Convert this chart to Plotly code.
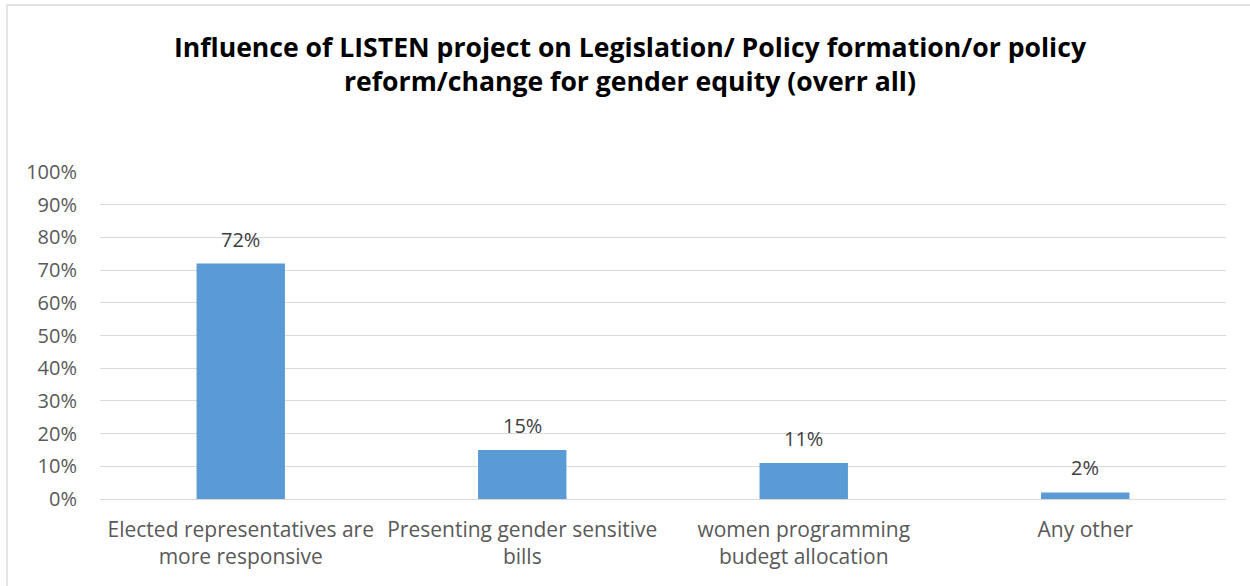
import plotly.graph_objects as go

categories = [
    "Elected representatives are<br>more responsive",
    "Presenting gender sensitive<br>bills",
    "women programming<br>budegt allocation",
    "Any other",
]
values = [0.72, 0.15, 0.11, 0.02]
value_labels = ["72%", "15%", "11%", "2%"]
tick_vals = [i / 10 for i in range(11)]
tick_text = [f"{i * 10}%" for i in range(11)]

FONT = "Open Sans"
BAR = "#5B9BD5"
GRID = "#D9D9D9"

fig = go.Figure()
fig.add_trace(go.Bar(
    x=categories, y=values, marker=dict(color=BAR, line=dict(width=0)),
    width=0.314, hoverinfo="skip",
))

for c, v, t in zip(categories, values, value_labels):
    fig.add_annotation(x=c, y=v, text=t, showarrow=False, yanchor="bottom",
                       yshift=9, font=dict(family=FONT, size=20, color="#404040"))

fig.add_shape(type="rect", xref="paper", yref="paper",
              x0=(7 - 100) / 1126, x1=1.1, y0=-0.5, y1=(499 - 5) / 327,
              line=dict(color=GRID, width=1.3), fillcolor="rgba(0,0,0,0)", layer="below")

fig.update_layout(
    width=1250, height=586,
    margin=dict(l=100, r=24, t=172, b=87),
    paper_bgcolor="white", plot_bgcolor="white",
    title=dict(
        text="<b>Influence of LISTEN project on Legislation/ Policy formation/or policy<br>reform/change for gender equity (overr all)</b>",
        x=0.504, xanchor="center", y=1 - 56.5 / 586, yanchor="middle", yref="container",
        font=dict(family=FONT, size=26.6, color="#000000"),
    ),
    showlegend=False,
    bargap=0.686,
    xaxis=dict(showgrid=False, showline=False, ticks="", tickfont=dict(family=FONT, size=21, color="#595959"),
               ticklabelstandoff=16),
    yaxis=dict(range=[0, 1], tickvals=tick_vals, ticktext=tick_text, showgrid=True,
               gridcolor=GRID, gridwidth=1.3, zeroline=True, zerolinecolor=GRID, zerolinewidth=1.3,
               showline=False, ticks="", tickfont=dict(family=FONT, size=20, color="#595959"),
               ticklabelstandoff=22),
)

fig.write_html("out.html")
